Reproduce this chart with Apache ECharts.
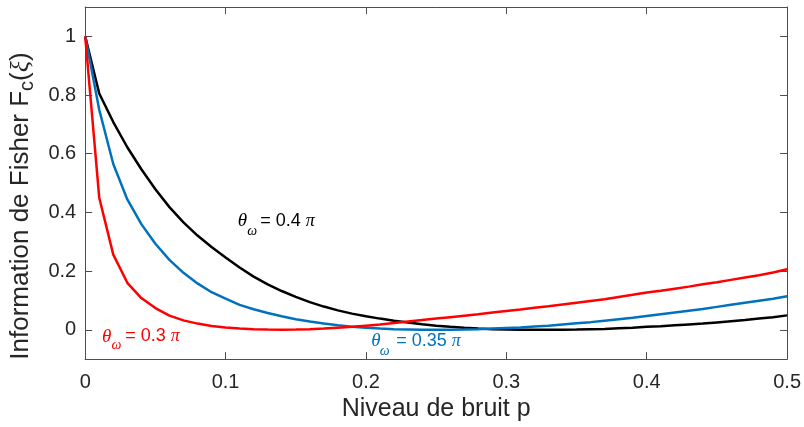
<!DOCTYPE html>
<html>
<head>
<meta charset="utf-8">
<script src="https://cdn.jsdelivr.net/npm/echarts@6/dist/echarts.min.js"></script>
<style>
html,body{margin:0;padding:0;background:#fff;}
#chart{width:804px;height:427px;}
</style>
</head>
<body>
<div id="chart"></div>
<script>
// Noise level p (x values)
const noiseLevels = [0,0.01,0.02,0.03,0.04,0.05,0.06,0.07,0.08,0.09,0.10,0.11,0.12,0.13,0.14,0.15,0.16,0.17,0.18,0.19,0.20,0.21,0.22,0.23,0.24,0.25,0.26,0.27,0.28,0.29,0.30,0.31,0.32,0.33,0.34,0.35,0.36,0.37,0.38,0.39,0.40,0.41,0.42,0.43,0.44,0.45,0.46,0.47,0.48,0.49,0.50];

// theta_omega = 0.4 pi (black)
const fisher04 = [1.0,0.805,0.708,0.622,0.547,0.479,0.418,0.366,0.321,0.282,0.246,0.212,0.181,0.155,0.132,0.112,0.094,0.079,0.066,0.055,0.046,0.038,0.031,0.025,0.019,0.014,0.010,0.0065,0.004,0.002,0.001,0.0003,0.0,0.0,0.0002,0.0008,0.002,0.003,0.005,0.007,0.010,0.012,0.015,0.018,0.021,0.025,0.029,0.033,0.038,0.043,0.049];

// theta_omega = 0.35 pi (blue)
const fisher035 = [1.0,0.75,0.565,0.444,0.36,0.293,0.238,0.194,0.158,0.128,0.106,0.085,0.070,0.057,0.046,0.036,0.028,0.021,0.015,0.010,0.007,0.004,0.002,0.001,0.0,0.0,0.0003,0.001,0.002,0.004,0.006,0.008,0.011,0.014,0.018,0.022,0.026,0.031,0.036,0.041,0.047,0.053,0.059,0.065,0.071,0.078,0.085,0.092,0.099,0.106,0.114];

// theta_omega = 0.3 pi (red)
const fisher03 = [1.0,0.45,0.256,0.160,0.108,0.074,0.048,0.032,0.021,0.013,0.008,0.004,0.002,0.0005,0.0,0.0005,0.002,0.004,0.007,0.010,0.014,0.018,0.023,0.028,0.033,0.038,0.043,0.048,0.053,0.059,0.064,0.069,0.075,0.080,0.086,0.092,0.098,0.104,0.112,0.119,0.127,0.133,0.140,0.147,0.155,0.162,0.170,0.178,0.186,0.195,0.206];

const yTicks = [0,0.2,0.4,0.6,0.8,1];
const xTicks = [0,0.1,0.2,0.3,0.4,0.5];

const seriesNames = ['θω = 0.4 π','θω = 0.35 π','θω = 0.3 π'];
const seriesColors = ['#000000','#0072bd','#ff0000'];

const FONT = '"Liberation Sans", Arial, Helvetica, sans-serif';
const SERIF = '"Liberation Serif", "DejaVu Serif", serif';
const AX = '#4d4d4d';
const TXT = '#262626';

const chart = echarts.init(document.getElementById('chart'), null, {renderer:'canvas'});

function pair(vals){ return noiseLevels.map((p,i)=>[p, vals[i]]); }

const baseX = {
  type:'value', min:0, max:0.5, interval:0.1,
  axisLine:{show:true, onZero:false, lineStyle:{color:AX, width:1}},
  axisTick:{show:true, inside:true, length:7, lineStyle:{color:AX}},
  splitLine:{show:false}
};
const baseY = {
  type:'value', min:-0.1, max:1.1,
  axisLine:{show:true, onZero:false, lineStyle:{color:AX, width:1}},
  axisTick:{show:true, inside:true, length:7, customValues:yTicks, lineStyle:{color:AX}},
  splitLine:{show:false}
};

const option = {
  animation:false,
  backgroundColor:'#ffffff',
  grid:{left:85, right:16, top:7, bottom:67, containLabel:false},
  xAxis:[
    Object.assign({}, baseX, {
      position:'bottom',
      axisLabel:{show:true, color:TXT, fontSize:20, fontFamily:FONT, margin:13,
        customValues:xTicks, formatter:v=>String(+v.toFixed(2))},
      axisTick:{show:true, inside:true, length:7, customValues:xTicks, lineStyle:{color:AX}},
      name:'Niveau de bruit p', nameLocation:'middle', nameGap:36,
      nameTextStyle:{color:TXT, fontSize:25, fontFamily:FONT}
    }),
    Object.assign({}, baseX, {
      position:'top',
      axisLabel:{show:false},
      axisTick:{show:true, inside:true, length:7, customValues:xTicks, lineStyle:{color:AX}}
    })
  ],
  yAxis:[
    Object.assign({}, baseY, {
      position:'left',
      axisLabel:{show:true, color:TXT, fontSize:20, fontFamily:FONT, margin:9,
        customValues:yTicks, formatter:v=>String(+v.toFixed(2))},
      name:'Information de Fisher F{c|c}({xi|ξ})',
      nameLocation:'middle', nameGap:47, nameRotate:90,
      nameTextStyle:{color:TXT, fontSize:26, fontFamily:FONT, padding:[0,46,0,0],
        rich:{
          c:{fontSize:20, fontFamily:FONT, color:TXT, padding:[13,0,0,0]},
          xi:{fontSize:26, fontFamily:SERIF, fontStyle:'italic', color:TXT}
        }}
    }),
    Object.assign({}, baseY, {
      position:'right',
      axisLabel:{show:false}
    })
  ],
  series:[
    {name:seriesNames[0], type:'line', data:pair(fisher04), showSymbol:false, symbol:'none',
      lineStyle:{color:seriesColors[0], width:2.5}, itemStyle:{color:seriesColors[0]}, z:3},
    {name:seriesNames[1], type:'line', data:pair(fisher035), showSymbol:false, symbol:'none',
      lineStyle:{color:seriesColors[1], width:2.5}, itemStyle:{color:seriesColors[1]}, z:4},
    {name:seriesNames[2], type:'line', data:pair(fisher03), showSymbol:false, symbol:'none',
      lineStyle:{color:seriesColors[2], width:2.5}, itemStyle:{color:seriesColors[2]}, z:5}
  ]
};
chart.setOption(option);

// Annotations anchored in data space
const annotations = [
  {anchor:[0.1086, 0.370], value:'0.4', color:seriesColors[0], subDx:9.5, subDy:10, eqDx:22.5},
  {anchor:[0.2038, -0.040], value:'0.35', color:seriesColors[1], subDx:8.5, subDy:10, eqDx:25},
  {anchor:[0.0119, -0.023], value:'0.3', color:seriesColors[2], subDx:9.5, subDy:9, eqDx:23.3}
];
const graphics = annotations.map(a=>{
  const pt = chart.convertToPixel({xAxisIndex:0, yAxisIndex:0}, a.anchor);
  return {
    type:'group', x:pt[0], y:pt[1], z:100,
    children:[
      {type:'text', x:0, y:0, style:{text:'θ', fill:a.color, fontSize:19, fontFamily:SERIF, fontStyle:'italic', verticalAlign:'middle', align:'left'}},
      {type:'text', x:a.subDx, y:a.subDy, style:{text:'ω', fill:a.color, fontSize:14, fontFamily:SERIF, fontStyle:'italic', verticalAlign:'middle', align:'left'}},
      {type:'text', x:a.eqDx, y:0, style:{
        text:'= '+a.value+' {pi|π}', fill:a.color, fontSize:18, fontFamily:FONT, verticalAlign:'middle', align:'left',
        rich:{pi:{fontSize:18, fontFamily:SERIF, fontStyle:'italic', fill:a.color}}}}
    ]
  };
});
chart.setOption({graphic:graphics});
</script>
</body>
</html>
